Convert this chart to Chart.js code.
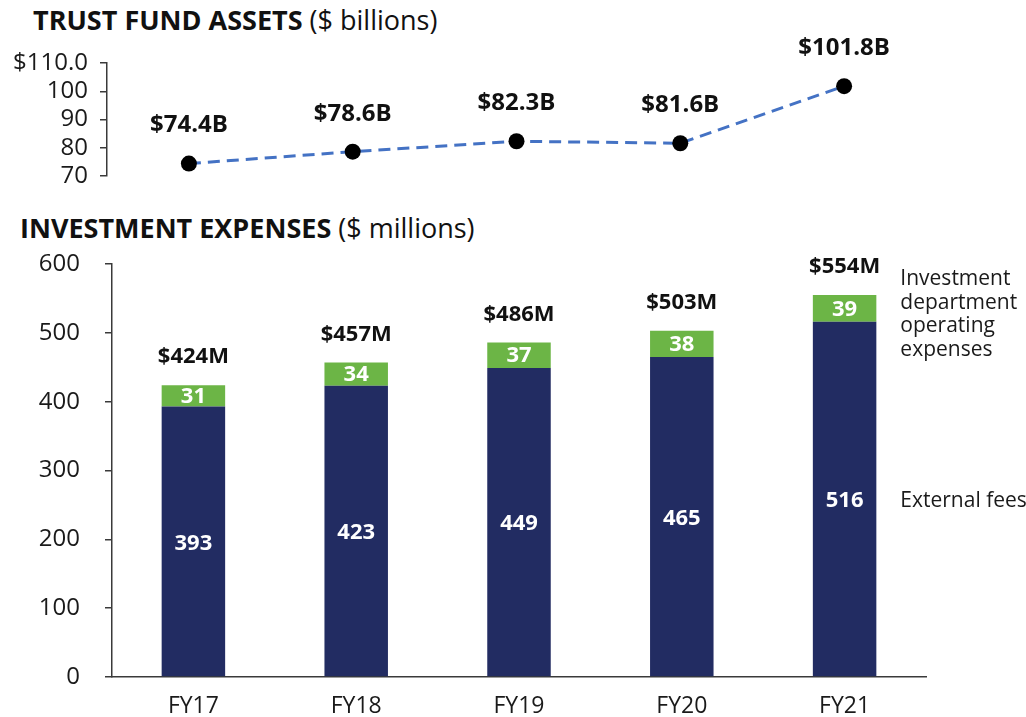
<!DOCTYPE html>
<html>
<head>
<meta charset="utf-8">
<script src="https://cdn.jsdelivr.net/npm/chart.js@4.4.1/dist/chart.umd.min.js"></script>
<style>
  html, body { margin: 0; padding: 0; background: #fff; }
  body { width: 1026px; height: 717px; position: relative; overflow: hidden; font-family: 'Open Sans', sans-serif; color: #111; }
  .title { position: absolute; font-size: 27px; white-space: nowrap; line-height: 1; }
  .title b { font-weight: 700; }
  #assetsWrap { position: absolute; left: 0; top: 0; width: 1026px; height: 195px; }
  #expWrap { position: absolute; left: 0; top: 195px; width: 1026px; height: 522px; }
</style>
</head>
<body>
<div class="title" style="left:33px; top:6px;"><b>TRUST FUND ASSETS</b> ($ billions)</div>
<div class="title" style="left:20px; top:214px;"><b>INVESTMENT EXPENSES</b> ($ millions)</div>
<div id="assetsWrap"><canvas id="assetsChart"></canvas></div>
<div id="expWrap"><canvas id="expChart"></canvas></div>
<script>
(function () {
    'use strict';

    // ── Data ───────────────────────────────────────────────────────────────────
    const categories   = ['FY17', 'FY18', 'FY19', 'FY20', 'FY21'];
    const assets       = [74.4, 78.6, 82.3, 81.6, 101.8];          // $ billions
    const externalFees = [393, 423, 449, 465, 516];                 // $ millions
    const opExpenses   = [31, 34, 37, 38, 39];                      // $ millions
    const totals       = [424, 457, 486, 503, 554];                 // labelled totals
    const assetTicks   = [70, 80, 90, 100, 110];
    const expTicks     = [0, 100, 200, 300, 400, 500, 600];
    const sideLabels   = {
        ops:  ['Investment', 'department', 'operating', 'expenses'],
        fees: ['External fees']
    };

    const FONT   = "'Open Sans', sans-serif";
    const NAVY   = '#222C62';
    const GREEN  = '#6CB546';
    const LINE   = '#4472C4';
    const AXIS   = '#3a3a3a';

    Chart.defaults.font.family = FONT;
    Chart.defaults.color = '#1a1a1a';

    // ── Trust fund assets (line) ───────────────────────────────────────────────
    const assetLabelPlugin = {
        id: 'assetLabels',
        afterDatasetsDraw(chart) {
            const { ctx } = chart;
            const meta = chart.getDatasetMeta(0);
            ctx.save();
            ctx.font = `bold 24px ${FONT}`;
            ctx.fillStyle = '#111';
            ctx.textAlign = 'center';
            ctx.textBaseline = 'middle';
            meta.data.forEach((pt, i) => {
                ctx.fillText(`$${assets[i].toFixed(1)}B`, pt.x, pt.y - 38);
            });
            ctx.restore();
        }
    };

    new Chart(document.getElementById('assetsChart'), {
        type: 'line',
        data: {
            labels: categories,
            datasets: [{
                data: assets,
                borderColor: LINE,
                borderWidth: 3,
                borderDash: [12, 7],
                pointRadius: 8,
                pointHoverRadius: 8,
                pointBackgroundColor: '#000',
                pointBorderWidth: 0,
                tension: 0,
                clip: false
            }]
        },
        options: {
            responsive: true,
            maintainAspectRatio: false,
            animation: false,
            layout: { padding: { top: 63, bottom: 19, left: 0, right: 100 } },
            plugins: { legend: { display: false }, tooltip: { enabled: false } },
            scales: {
                x: { display: false, offset: true },
                y: {
                    min: 70,
                    max: 110,
                    afterBuildTicks: (s) => { s.ticks = assetTicks.map(v => ({ value: v })); },
                    afterFit: (s) => { s.width = 107; s.paddingTop = 0; s.paddingBottom = 0; },
                    ticks: {
                        font: { size: 24 },
                        padding: 12,
                        autoSkip: false,
                        callback: (v) => v === 110 ? '$110.0' : String(v)
                    },
                    grid: { drawOnChartArea: false, tickLength: 7, color: AXIS, lineWidth: 1.5 },
                    border: { color: AXIS, width: 1.5 }
                }
            }
        },
        plugins: [assetLabelPlugin]
    });

    // ── Investment expenses (stacked bars) ─────────────────────────────────────
    const expLabelPlugin = {
        id: 'expLabels',
        afterDatasetsDraw(chart) {
            const { ctx } = chart;
            const feeMeta = chart.getDatasetMeta(0);
            const opsMeta = chart.getDatasetMeta(1);
            ctx.save();
            ctx.textAlign = 'center';
            ctx.textBaseline = 'middle';

            // values inside segments
            ctx.font = `bold 22px ${FONT}`;
            ctx.fillStyle = '#fff';
            feeMeta.data.forEach((bar, i) => {
                ctx.fillText(String(externalFees[i]), bar.x, (bar.y + bar.base) / 2 + 2);
            });
            opsMeta.data.forEach((bar, i) => {
                ctx.fillText(String(opExpenses[i]), bar.x, (bar.y + bar.base) / 2 + 1);
            });

            // totals above bars
            ctx.font = `bold 22px ${FONT}`;
            ctx.fillStyle = '#111';
            opsMeta.data.forEach((bar, i) => {
                ctx.fillText(`$${totals[i]}M`, bar.x, bar.y - 28);
            });

            // series labels beside the last bar
            const last = categories.length - 1;
            const lastOps = opsMeta.data[last];
            const lastFee = feeMeta.data[last];
            const tx = lastOps.x + lastOps.width / 2 + 24;
            ctx.font = `21px ${FONT}`;
            ctx.fillStyle = '#1a1a1a';
            ctx.textAlign = 'left';
            const lh = 23.5;
            const opsMid = (lastOps.y + lastOps.base) / 2 + 6;
            sideLabels.ops.forEach((t, k) => {
                ctx.fillText(t, tx, opsMid + (k - (sideLabels.ops.length - 1) / 2) * lh);
            });
            ctx.fillText(sideLabels.fees[0], tx, (lastFee.y + lastFee.base) / 2 + 2);
            ctx.restore();
        }
    };

    new Chart(document.getElementById('expChart'), {
        type: 'bar',
        data: {
            labels: categories,
            datasets: [
                {
                    label: 'External fees',
                    data: externalFees,
                    backgroundColor: NAVY,
                    barPercentage: 0.39,
                    categoryPercentage: 1.0
                },
                {
                    label: 'Investment department operating expenses',
                    data: opExpenses,
                    backgroundColor: GREEN,
                    barPercentage: 0.39,
                    categoryPercentage: 1.0
                }
            ]
        },
        options: {
            responsive: true,
            maintainAspectRatio: false,
            animation: false,
            layout: { padding: { top: 69, bottom: 0, left: 0, right: 100 } },
            plugins: { legend: { display: false }, tooltip: { enabled: false } },
            scales: {
                x: {
                    stacked: true,
                    afterFit: (s) => { s.height = 40; },
                    ticks: { font: { size: 23 }, padding: 8, color: '#1a1a1a' },
                    grid: { display: false },
                    border: { display: true, color: AXIS, width: 1.5 }
                },
                y: {
                    stacked: true,
                    min: 0,
                    max: 600,
                    afterBuildTicks: (s) => { s.ticks = expTicks.map(v => ({ value: v })); },
                    afterFit: (s) => { s.width = 112; },
                    ticks: { font: { size: 24 }, padding: 25, autoSkip: false },
                    grid: { drawOnChartArea: false, tickLength: 7, color: AXIS, lineWidth: 1.5 },
                    border: { color: AXIS, width: 1.5 }
                }
            }
        },
        plugins: [expLabelPlugin]
    });
}());
</script>
</body>
</html>
